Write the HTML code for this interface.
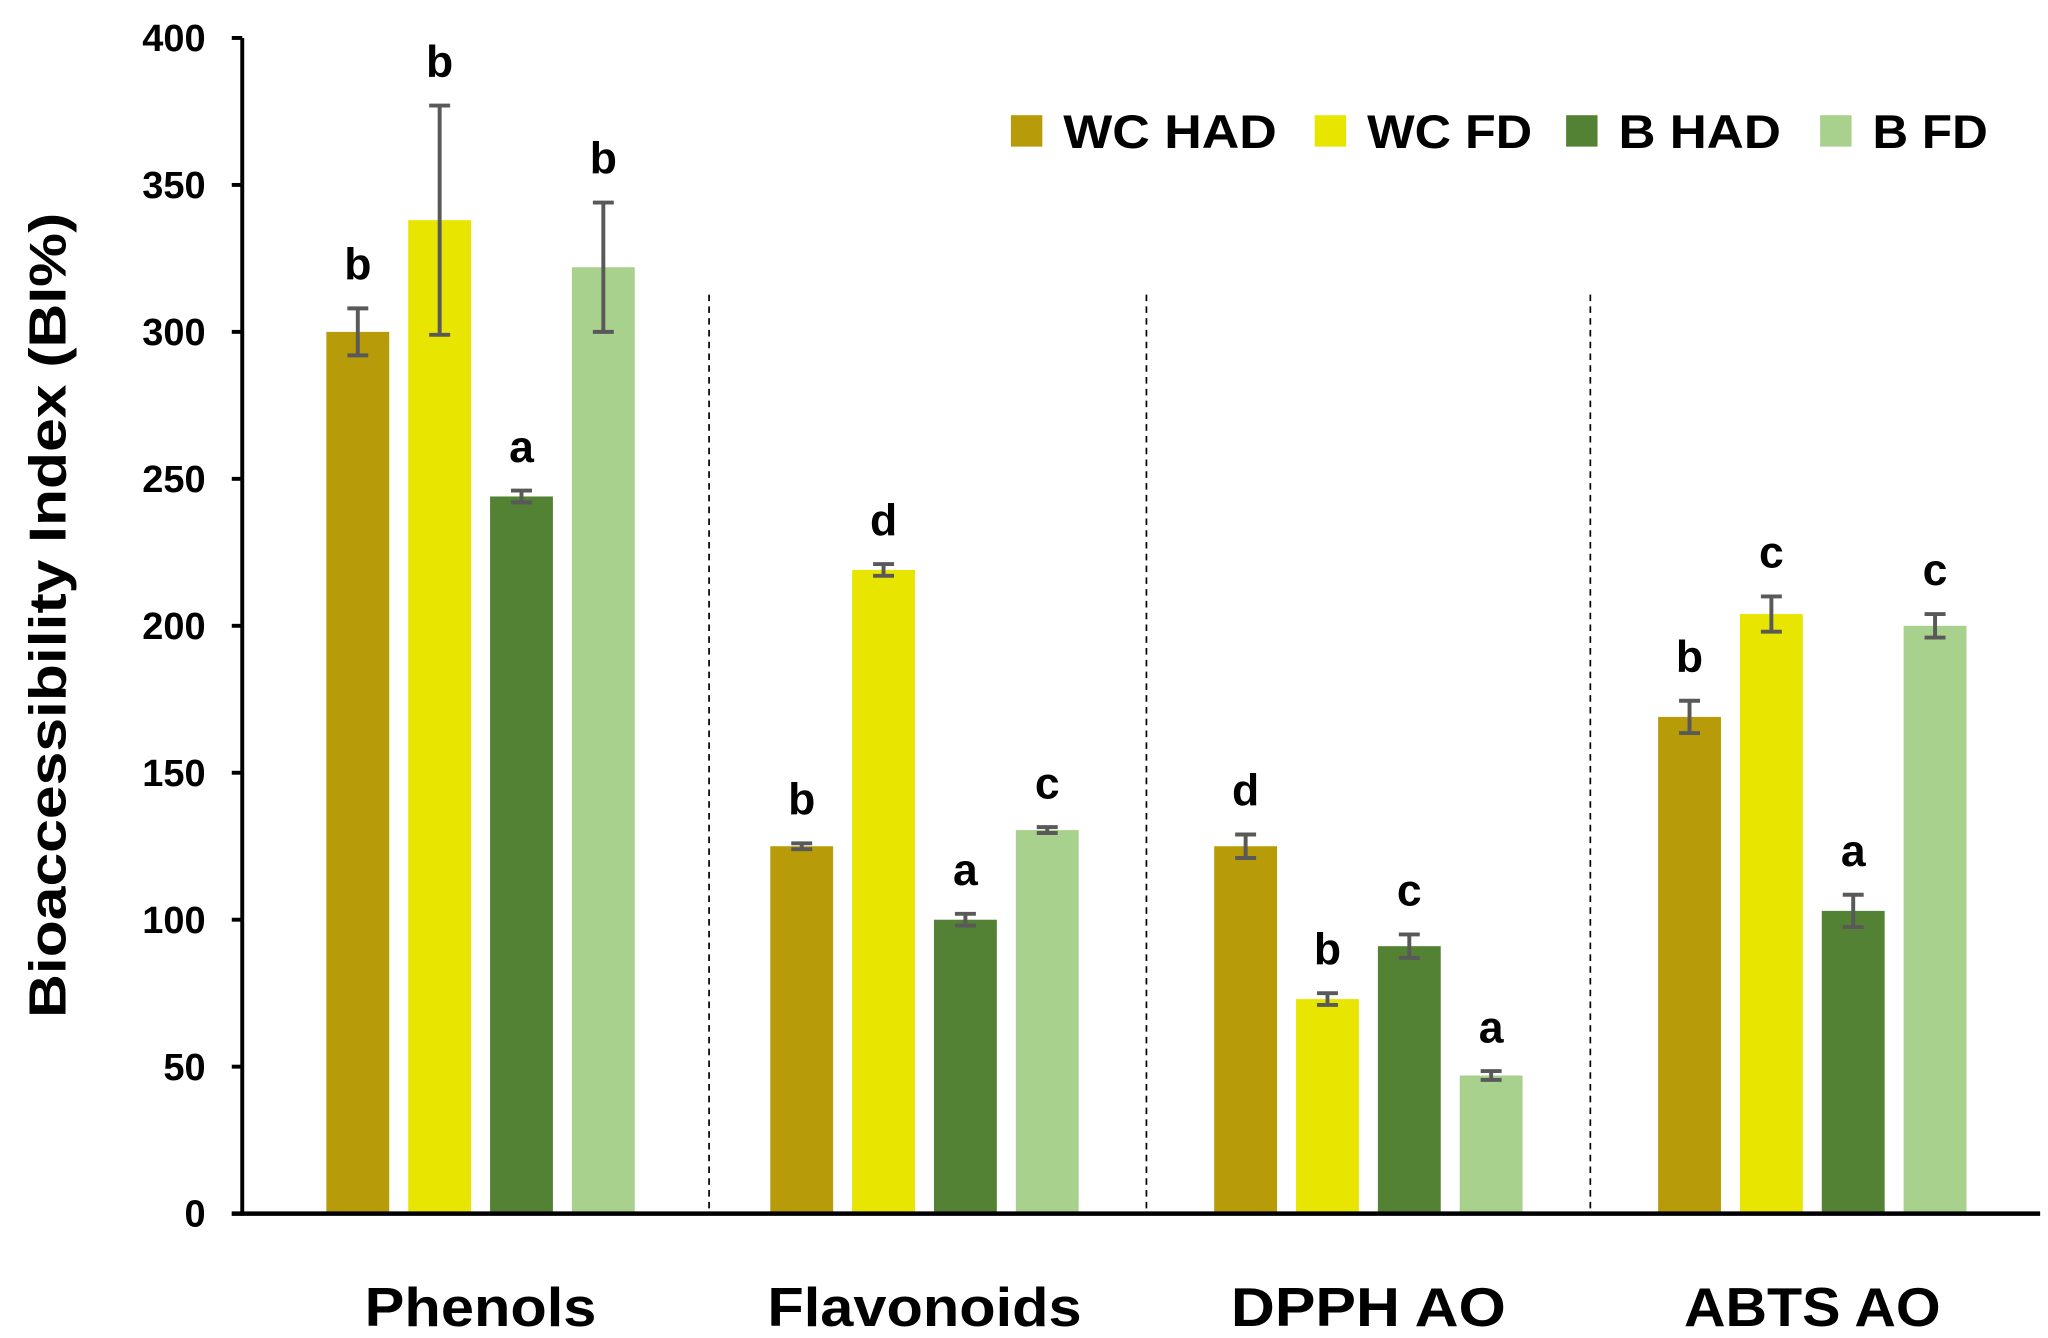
<!DOCTYPE html>
<html><head><meta charset="utf-8"><style>html,body{margin:0;padding:0;background:#fff}svg{display:block}text{font-family:"Liberation Sans",sans-serif;font-weight:bold;fill:#000}</style></head>
<body>
<svg id="chart" width="2048" height="1338" viewBox="0 0 1564 1022" preserveAspectRatio="none" xmlns="http://www.w3.org/2000/svg"></svg>
<script>
const categories = ["Phenols", "Flavonoids", "DPPH AO", "ABTS AO"];
const seriesNames = ["WC HAD", "WC FD", "B HAD", "B FD"];
const wcHad = [300, 125, 125, 169];
const wcFd = [338, 219, 73, 204];
const bHad = [244, 100, 91, 103];
const bFd = [322, 130.5, 47, 200];
const wcHadErr = [8, 1, 4, 5.5];
const wcFdErr = [39, 2, 2, 6];
const bHadErr = [2, 2, 4, 5.5];
const bFdErr = [22, 1, 1.5, 4];
const wcHadLetters = ["b", "b", "d", "b"];
const wcFdLetters = ["b", "d", "b", "c"];
const bHadLetters = ["a", "a", "c", "a"];
const bFdLetters = ["b", "c", "a", "c"];
const yTicks = [0, 50, 100, 150, 200, 250, 300, 350, 400];

const colors = ["#B89B08", "#E8E600", "#548235", "#A9D18E"];
const series = [wcHad, wcFd, bHad, bFd];
const errs = [wcHadErr, wcFdErr, bHadErr, bFdErr];
const letters = [wcHadLetters, wcFdLetters, bHadLetters, bFdLetters];
const svg = document.getElementById('chart');
const NS = "http://www.w3.org/2000/svg";
const y0 = 927, yTop = 29, axisX = 185;
function yScale(v) { return y0 - v / 400 * (y0 - yTop); }
function xGroup(i) { return 367 + 340 * i - i * 1; }
function mk(tag, attrs, txt) {
  const e = document.createElementNS(NS, tag);
  for (const k in attrs) e.setAttribute(k, attrs[k]);
  if (txt !== undefined) e.textContent = txt;
  svg.appendChild(e);
  return e;
}
for (let g = 1; g < categories.length; g++) {
  const sx = (xGroup(g - 1) + xGroup(g)) / 2 + (g === 1 ? 5 : 0);
  const l = mk('line', {x1: sx, x2: sx, y1: 225, y2: y0, stroke: '#000', 'stroke-width': 1.3, 'stroke-dasharray': '5,4'});
  
  
}
for (let s = 0; s < series.length; s++) {
  for (let g = 0; g < categories.length; g++) {
    const cx = xGroup(g) + (s - 1.5) * 62.5;
    const v = series[s][g];
    const r = mk('rect', {x: cx - 24, y: yScale(v), width: 48, height: y0 - yScale(v), fill: colors[s]});
    
    
    const e = errs[s][g];
    const t = yScale(v + e), b = yScale(v - e);
    const eb = mk('path', {d: `M${cx},${t}V${b}M${cx-8},${t}H${cx+8}M${cx-8},${b}H${cx+8}`, stroke: '#595959', 'stroke-width': 3, fill: 'none'});
    
    
    const lt = mk('text', {x: cx, y: t - 22, 'text-anchor': 'middle', 'font-size': 34}, letters[s][g]);
    
    
  }
}
const ya = mk('line', {x1: axisX, x2: axisX, y1: yTop, y2: y0 + 1.5, stroke: '#000', 'stroke-width': 3});


const xa = mk('line', {x1: axisX - 8, x2: 1558, y1: y0, y2: y0, stroke: '#000', 'stroke-width': 3.5});


for (const v of yTicks) {
  const tk = mk('line', {x1: axisX - 8, x2: axisX, y1: yScale(v), y2: yScale(v), stroke: '#000', 'stroke-width': 3});
  
  
  const tl = mk('text', {x: 157, y: yScale(v) + 10, 'text-anchor': 'end', 'font-size': 29}, String(v));
  
  
}
for (let g = 0; g < categories.length; g++) {
  const tw = [177, 240, 210, 196][g];
  const cl = mk('text', {x: xGroup(g), y: 1013, 'text-anchor': 'middle', 'font-size': 42, textLength: tw, lengthAdjust: 'spacingAndGlyphs'}, categories[g]);
  
  
}
const yt = mk('text', {x: 0, y: 0, 'text-anchor': 'middle', 'font-size': 40, textLength: 615, lengthAdjust: 'spacingAndGlyphs', transform: 'translate(50,470) rotate(-90)'}, 'Bioaccessibility Index (BI%)');


const legX = [772, 1004, 1196, 1390];
for (let s = 0; s < seriesNames.length; s++) {
  const sq = mk('rect', {x: legX[s], y: 88, width: 24, height: 24, fill: colors[s]});
  
  
  const tw = [163, 126, 124, 88][s];
  const lt = mk('text', {x: legX[s] + 40, y: 113, 'font-size': 36, textLength: tw, lengthAdjust: 'spacingAndGlyphs'}, seriesNames[s]);
  
  
}
</script>
</body></html>
